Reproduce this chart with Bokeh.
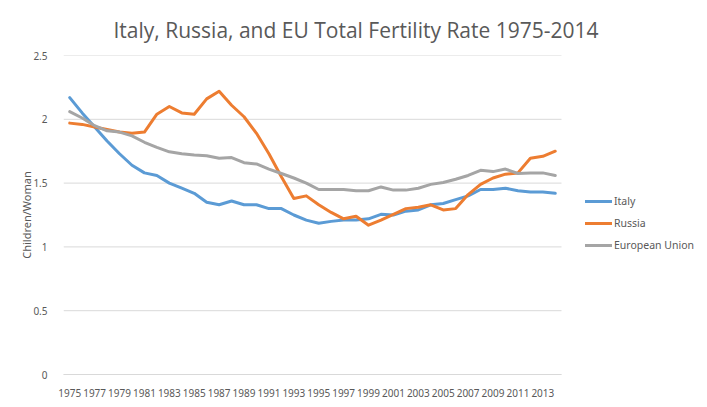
from bokeh.plotting import figure
from bokeh.models import Range1d, FixedTicker, Legend, LegendItem
from bokeh.embed import file_html
from bokeh.resources import INLINE

years = list(range(1975, 2015))
italy = [2.17, 2.05, 1.94, 1.83, 1.73, 1.64, 1.58, 1.56, 1.50, 1.46,
         1.42, 1.35, 1.33, 1.36, 1.33, 1.33, 1.30, 1.30, 1.25, 1.21,
         1.185, 1.20, 1.21, 1.21, 1.22, 1.255, 1.25, 1.28, 1.29, 1.33,
         1.34, 1.37, 1.40, 1.45, 1.45, 1.46, 1.44, 1.43, 1.43, 1.42]
russia = [1.97, 1.96, 1.94, 1.92, 1.90, 1.89, 1.90, 2.04, 2.10, 2.05,
          2.04, 2.16, 2.22, 2.11, 2.02, 1.89, 1.73, 1.55, 1.38, 1.40,
          1.33, 1.27, 1.22, 1.24, 1.17, 1.21, 1.255, 1.30, 1.31, 1.33,
          1.29, 1.30, 1.41, 1.49, 1.54, 1.57, 1.58, 1.695, 1.71, 1.75]
eu = [2.06, 2.01, 1.95, 1.91, 1.90, 1.87, 1.82, 1.78, 1.745, 1.73,
      1.72, 1.715, 1.695, 1.70, 1.66, 1.65, 1.61, 1.575, 1.54, 1.50,
      1.45, 1.45, 1.45, 1.44, 1.44, 1.47, 1.445, 1.445, 1.46, 1.49,
      1.505, 1.53, 1.56, 1.60, 1.59, 1.61, 1.575, 1.58, 1.58, 1.56]
x_ticks = list(range(1975, 2014, 2))
y_ticks = [0, 0.5, 1, 1.5, 2, 2.5]
y_labels = ["0", "0.5", "1", "1.5", "2", "2.5"]
series_names = ["Italy", "Russia", "European Union"]
series_colors = ["#5B9BD5", "#ED7D31", "#A5A5A5"]

TXT = "#595959"
FONT = "Noto Sans"

W, H = 699, 399
LEFT, TOP, BOTTOM = 63, 55, 24
PLOT_W = 498  # width of the category area in px
x0 = years[0] - 0.5
x1 = years[-1] + 0.5
frame_w = W - LEFT
x_end = x0 + (x1 - x0) * frame_w / PLOT_W

p = figure(width=W, height=H, output_backend="svg", toolbar_location=None,
           x_range=Range1d(x0, x_end), y_range=Range1d(0, 2.5),
           min_border_left=LEFT, min_border_right=0, min_border_top=TOP,
           min_border_bottom=BOTTOM)
p.outline_line_color = None
p.background_fill_color = "white"
p.border_fill_color = "white"

p.title.text = "Italy, Russia, and EU Total Fertility Rate 1975-2014"
p.title.align = "left"
p.title.text_font = "Open Sans"
p.title.text_font_size = "21px"
p.title.text_font_style = "normal"
p.title.text_color = TXT
p.title.offset = 50
p.title.vertical_align = "top"
p.title.standoff = 20

p.xgrid.visible = False
p.ygrid.visible = False
p.segment(x0=[x0] * len(y_ticks), x1=[x1] * len(y_ticks), y0=y_ticks, y1=y_ticks,
          line_color="#D9D9D9", line_width=1)

renderers = []
for vals, name, col in zip([italy, russia, eu], series_names, series_colors):
    r = p.line(years, vals, line_color=col, line_width=3, line_join="round",
               line_cap="round")
    renderers.append(r)

xa = p.xaxis[0]
xa.ticker = FixedTicker(ticks=x_ticks)
xa.bounds = (x0, x1)
xa.axis_line_color = "#D9D9D9"
xa.major_tick_line_color = None
xa.minor_tick_line_color = None
xa.major_label_text_font = FONT
xa.major_label_text_font_size = "10px"
xa.major_label_text_color = TXT
xa.major_label_standoff = 8

ya = p.yaxis[0]
ya.ticker = FixedTicker(ticks=y_ticks)
ya.major_label_overrides = {t: l for t, l in zip(y_ticks, y_labels)}
ya.axis_line_color = None
ya.major_tick_line_color = None
ya.minor_tick_line_color = None
ya.major_label_text_font = FONT
ya.major_label_text_font_size = "10px"
ya.major_label_text_color = TXT
ya.major_label_standoff = 10
ya.axis_label = "Children/Woman"
ya.axis_label_text_font = FONT
ya.axis_label_text_font_size = "11px"
ya.axis_label_text_font_style = "normal"
ya.axis_label_text_color = TXT
ya.axis_label_standoff = -4

legend = Legend(items=[LegendItem(label=n, renderers=[r]) for n, r in zip(series_names, renderers)],
                location=(522, 121))
legend.border_line_color = None
legend.background_fill_alpha = 0
legend.padding = 0
legend.margin = 0
legend.glyph_width = 27
legend.glyph_height = 16
legend.label_height = 16
legend.spacing = 6
legend.label_standoff = 2
legend.label_text_font = FONT
legend.label_text_font_size = "10.5px"
legend.label_text_color = TXT
p.add_layout(legend, "center")

open("out.html", "w").write(file_html(p, INLINE))
